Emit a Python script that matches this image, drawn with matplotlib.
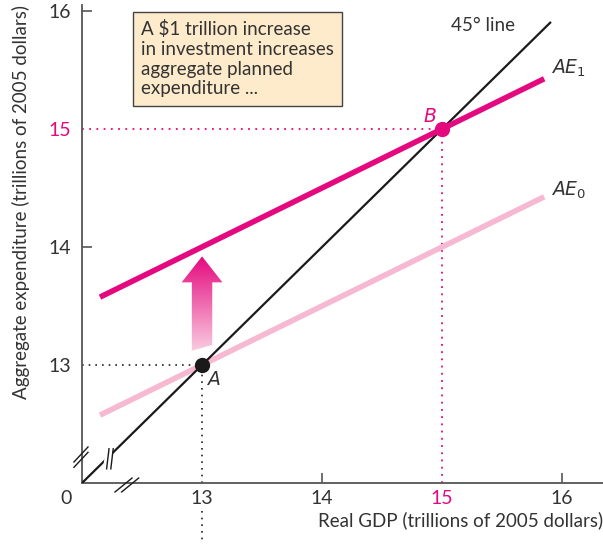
import numpy as np
import matplotlib
matplotlib.use("Agg")
import matplotlib.pyplot as plt
from matplotlib.patches import Polygon

# data (trillions of 2005 dollars)
gdp_ends = [12.15, 15.85]
ae0 = [12.575, 14.425]
ae1 = [13.575, 15.425]
line45 = [12.0, 15.9]
pt_a = (13, 13)
pt_b = (15, 15)
ticks = [13, 14, 15, 16]
tick_labels = ["13", "14", "15", "16"]

MAG = "#e5097f"
PINK = "#f6b9d1"
GREY = "#555555"
TXT = "#333333"

plt.rcParams['font.family'] = ['Lato', 'DejaVu Sans']

fig = plt.figure(figsize=(6.03, 5.44), dpi=100)
ax = fig.add_axes([82/603, 61/544, 1 - 82/603, (483-5)/544])
ax.set_xlim(12, 16.34)
ax.set_ylim(12, 16.05)

for s in ["top", "right"]:
    ax.spines[s].set_visible(False)
for s in ["left", "bottom"]:
    ax.spines[s].set_color(GREY)
    ax.spines[s].set_linewidth(1.3)

ax.set_xticks(ticks)
ax.set_xticklabels(tick_labels)
ax.set_yticks(ticks)
ax.set_yticklabels(tick_labels)
ax.tick_params(direction="in", length=7, width=1.2, color=GREY,
               labelsize=14, labelcolor=TXT)
ax.tick_params(axis="x", pad=5)
ax.tick_params(axis="y", pad=8)
for axis in (ax.xaxis, ax.yaxis):
    tl = axis.get_major_ticks()
    tl[0].tick1line.set_visible(False)
    tl[2].tick1line.set_visible(False)
    tl[2].label1.set_color(MAG)

ax.set_xlabel("Real GDP (trillions of 2005 dollars)", fontsize=13.5,
              color=TXT, loc="right", labelpad=3)
ax.set_ylabel("Aggregate expenditure (trillions of 2005 dollars)",
              fontsize=13.5, color=TXT, loc="top", labelpad=13)
ax.annotate("0", xy=(0, 0), xycoords="axes fraction", xytext=(-16, -15),
            textcoords="offset pixels", ha="center", va="center",
            fontsize=14, color=TXT, annotation_clip=False)

# guide lines
ax.plot([12, pt_a[0]], [pt_a[1], pt_a[1]], ls=(0, (1, 3)), color="#222222", lw=1.2)
ax.plot([pt_a[0], pt_a[0]], [12, pt_a[1]], ls=(0, (1, 3)), color="#222222", lw=1.2)
ax.plot([pt_a[0], pt_a[0]], [11.76, 11.52], ls=(0, (1, 3)), color="#222222",
        lw=1.2, clip_on=False)
ax.plot([12, pt_b[0]], [pt_b[1], pt_b[1]], ls=(0, (1, 3)), color=MAG, lw=1.3)
ax.plot([pt_b[0], pt_b[0]], [12, pt_b[1]], ls=(0, (1, 3)), color=MAG, lw=1.3)

# curves
ax.plot(gdp_ends, ae0, color=PINK, lw=4, solid_capstyle="butt", zorder=3)
ax.plot(line45, line45, color="#1a1a1a", lw=1.6, zorder=4)
ax.plot(gdp_ends, ae1, color=MAG, lw=4, solid_capstyle="butt", zorder=5)

# break marks
ax.plot([12.2, 12.23], [12.10, 12.30], color="white", lw=5, zorder=6, clip_on=False)
for dx in (0.0, 0.035):
    ax.plot([12.205 + dx, 12.225 + dx], [12.12, 12.29], color="#1a1a1a", lw=1.0,
            zorder=7)
for dy in (0.0, -0.045):
    ax.plot([11.933, 12.05], [12.178 + dy, 12.305 + dy], color="#1a1a1a", lw=1.0,
            clip_on=False, zorder=7)
for dx in (0.0, 0.055):
    ax.plot([12.275 + dx, 12.417 + dx], [11.924, 12.042], color="#1a1a1a", lw=1.0,
            clip_on=False, zorder=7)

# points
ax.plot(*pt_a, "o", color="#1a1a1a", ms=10, zorder=8)
ax.plot(*pt_b, "o", color=MAG, ms=10, zorder=8)

# gradient arrow
hw, hh = 0.085, 0.17
verts = [(13 - hw, 13.12), (13 + hw, 13.17), (13 + hw, 13.70), (13 + hh, 13.70),
         (13, 13.92), (13 - hh, 13.70), (13 - hw, 13.70)]
arrow = Polygon(verts, closed=True, facecolor="none", edgecolor="none")
ax.add_patch(arrow)
grad = np.linspace(0, 1, 256).reshape(-1, 1)
cmap = matplotlib.colors.LinearSegmentedColormap.from_list("g", ["#f9cde0", MAG])
im = ax.imshow(grad, cmap=cmap, origin="lower", aspect="auto",
               extent=[13 - hh, 13 + hh, 13.12, 13.92], zorder=6)
im.set_clip_path(arrow)
ax.set_xlim(12, 16.34)
ax.set_ylim(12, 16.05)

# labels
ax.text(15.34, 15.88, "45° line", fontsize=13.5, color=TXT, ha="center", va="center")
ax.text(15.91, 15.51, "$AE_1$", fontsize=13.5, color=TXT, ha="left", va="center")
ax.text(15.91, 14.48, "$AE_0$", fontsize=13.5, color=TXT, ha="left", va="center")
ax.text(14.9, 15.11, "$B$", fontsize=13.5, color=MAG, ha="center", va="center")
ax.text(13.09, 12.88, "$A$", fontsize=13.5, color=TXT, ha="center", va="center")

ax.text(141/603, 1 - 20/544,
        "A \\$1 trillion increase\nin investment increases\naggregate planned\nexpenditure ...",
        transform=fig.transFigure, fontsize=13.5, color=TXT, ha="left", va="top",
        linespacing=1.2,
        bbox=dict(boxstyle="square,pad=0.45", facecolor="#fdebcb",
                  edgecolor="#444444", lw=1.0))

fig.savefig("out.png", dpi=100)
